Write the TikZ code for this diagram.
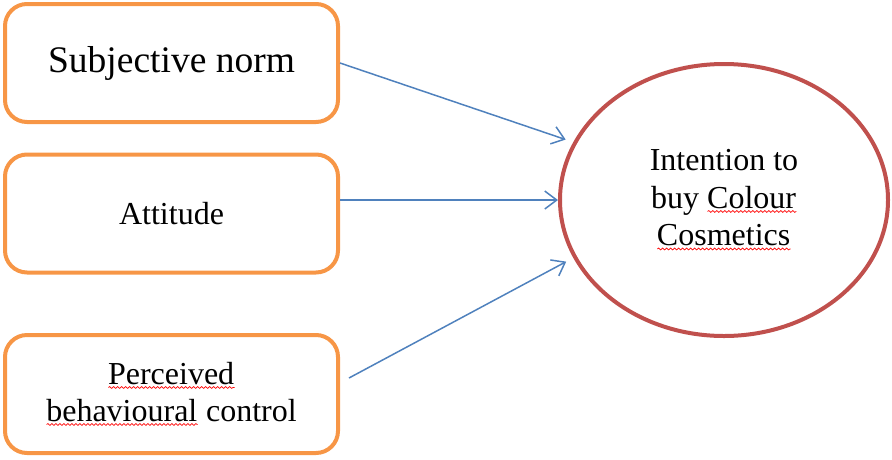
\documentclass[tikz,border=0pt]{standalone}
\usepackage{fontspec}
\setmainfont{Liberation Serif}
\usetikzlibrary{arrows.meta,decorations.pathmorphing,calc,shapes.geometric}
\definecolor{boxorange}{HTML}{F79646}
\definecolor{ellred}{HTML}{C0504D}
\definecolor{arrblue}{HTML}{4F81BD}
\newsavebox\wvbox
\newcommand\wvy[1]{\sbox\wvbox{#1}\leavevmode\rlap{\usebox\wvbox}\tikz[baseline=0pt]\draw[red, sharp corners, line width=0.7pt, decorate, decoration={snake,amplitude=0.9pt,segment length=4pt}] (0pt,-3pt) -- (\wd\wvbox,-3pt);}
\begin{document}
\begin{tikzpicture}[x=1pt,y=-1pt,
  box/.style={draw=boxorange, line width=4pt, rounded corners=22pt, minimum width=333pt, minimum height=118pt, inner sep=0pt, align=center, font=\fontsize{32}{37}\selectfont},
  oval/.style={ellipse, draw=ellred, line width=4pt, minimum width=328pt, minimum height=272pt, inner sep=0pt, align=center, font=\fontsize{32}{37.5}\selectfont},
  arr/.style={draw=arrblue, line width=1.5pt, -{Straight Barb[length=12pt,width=18pt]}}]
\useasboundingbox (0,0) rectangle (892,459);
\node[box, font=\fontsize{37.5}{44}\selectfont] (b1) at (171.5,63) {Subjective norm};
\node[box] (b2) at (171.5,213.5) {Attitude};
\node[box] (b3) at (171.5,394) {\wvy{Perceived}\\\wvy{behavioural} control};
\node[oval] (ell) at (724,200) {Intention to\\buy \wvy{Colour}\\\wvy{Cosmetics}};
\coordinate (s3) at ($(b3.east)+(9,-16)$);
\draw[arr, shorten >=8pt] (b1.east) -- (ell.159);
\draw[arr] (ell.west -| b2.east) -- (ell.west);
\draw[arr, shorten >=8pt] (s3) -- (ell.201);
\end{tikzpicture}
\end{document}
